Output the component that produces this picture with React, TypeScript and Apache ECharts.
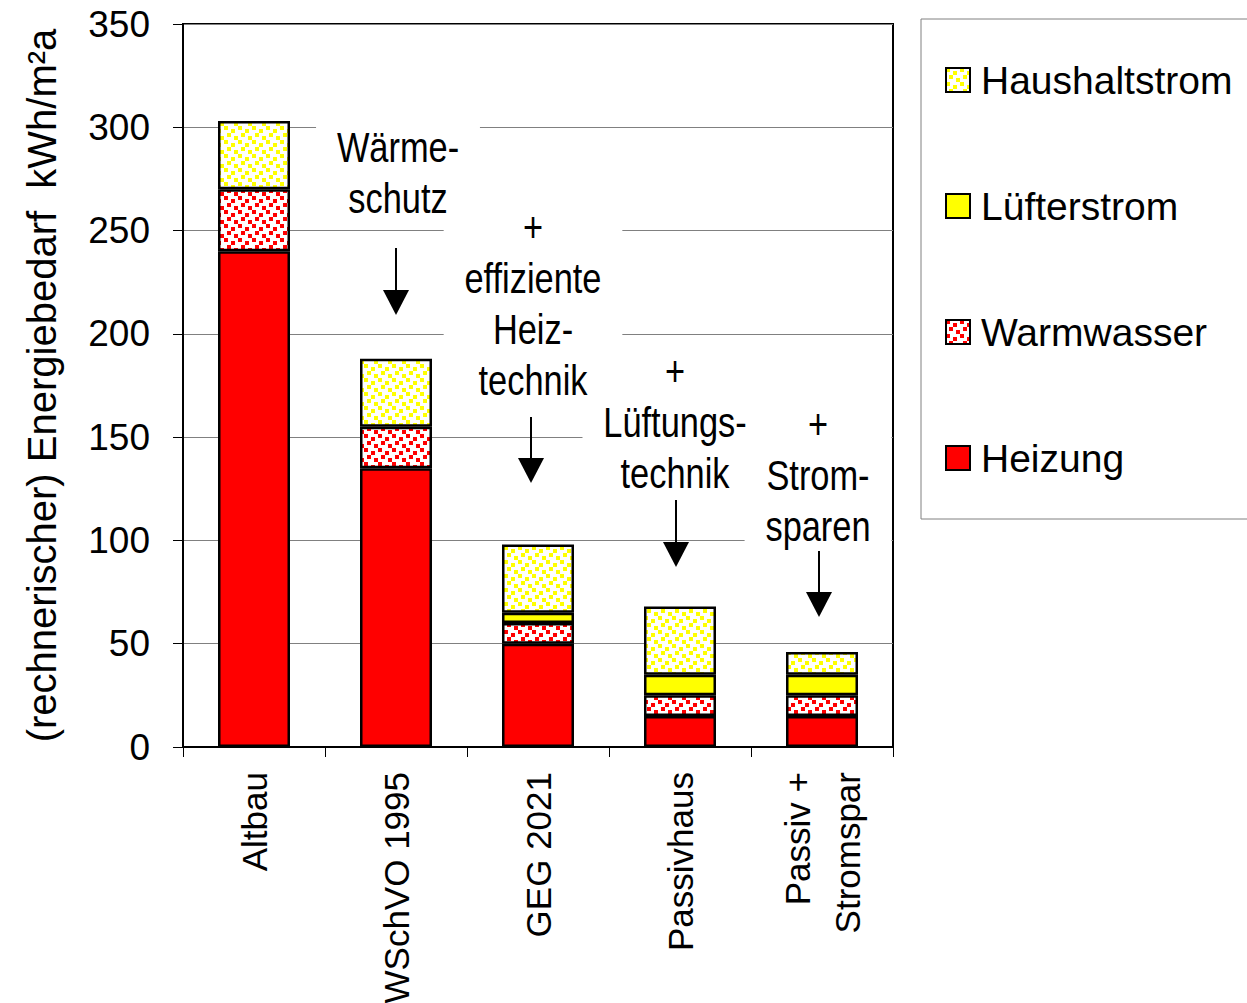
import React, { useEffect, useRef } from 'react';
import * as echarts from 'echarts';

const categories = ['Altbau', 'WSchVO 1995', 'GEG 2021', 'Passivhaus', 'Passiv +\nStromspar'];
const heizung = [240, 135, 50, 15, 15];
const warmwasser = [30, 20, 10, 10, 10];
const luefterstrom = [0, 0, 5, 10, 10];
const haushaltstrom = [33, 33, 33, 33, 11];
const legendOrder = ['Haushaltstrom', 'Lüfterstrom', 'Warmwasser', 'Heizung'];
const yAxisName = '(rechnerischer) Energiebedarf  kWh/m²a';

const annotations = [
  { text: 'Wärme-\nschutz', x: 398, y: 173 },
  { text: '+\neffiziente\nHeiz-\ntechnik', x: 533, y: 304 },
  { text: '+\nLüftungs-\ntechnik', x: 675, y: 422 },
  { text: '+\nStrom-\nsparen', x: 818, y: 475 },
];
const arrows = [
  { x: 396, y1: 248, y2: 315 },
  { x: 531, y1: 417, y2: 483 },
  { x: 676, y1: 500, y2: 567 },
  { x: 819, y1: 551, y2: 617 },
];

const FONT = "'Liberation Sans', Arial, sans-serif";

function makePattern(color: string) {
  const c = document.createElement('canvas');
  c.width = 14;
  c.height = 14;
  const ctx = c.getContext('2d')!;
  ctx.fillStyle = '#ffffff';
  ctx.fillRect(0, 0, 14, 14);
  ctx.fillStyle = color;
  [[0, 0], [7, 3], [3, 7], [10, 10]].forEach(([x, y]) => ctx.fillRect(x, y, 4, 4));
  return { image: c.toDataURL(), repeat: 'repeat', imageWidth: 14, imageHeight: 14 } as any;
}

export default function App() {
  const ref = useRef<HTMLDivElement>(null);
  useEffect(() => {
    if (!ref.current) return;
    const chart = echarts.init(ref.current, null, { renderer: 'svg' });
    const border = { borderColor: '#000', borderWidth: 2.5 };
    const mkSeries = (name: string, data: number[], color: any) => ({
      name,
      type: 'bar',
      stack: 'total',
      barWidth: 72,
      data: data.map((v) => (v === 0 ? '-' : v)),
      itemStyle: { color, ...border },
    });
    const graphics: any[] = [
      {
        type: 'rect',
        z: -10,
        shape: { x: 921, y: 19, width: 340, height: 500 },
        style: { fill: '#fff', stroke: '#808080', lineWidth: 1 },
      },
    ];
    annotations.forEach((a) => {
      const base = {
        text: a.text,
        font: `43px ${FONT}`,
        align: 'center',
        verticalAlign: 'middle',
        lineHeight: 51,
      };
      graphics.push({
        type: 'text',
        z: 40,
        x: a.x,
        y: a.y,
        scaleX: 0.8,
        style: { ...base, fill: 'rgba(0,0,0,0)', backgroundColor: '#fff', padding: [4, 26, 4, 26] },
      });
      graphics.push({
        type: 'text',
        z: 50,
        x: a.x,
        y: a.y,
        scaleX: 0.8,
        style: { ...base, fill: '#000' },
      });
    });
    arrows.forEach((a) => {
      graphics.push({
        type: 'line',
        z: 60,
        shape: { x1: a.x, y1: a.y1, x2: a.x, y2: a.y2 - 20 },
        style: { stroke: '#000', lineWidth: 2 },
      });
      graphics.push({
        type: 'polygon',
        z: 60,
        shape: { points: [[a.x - 13, a.y2 - 25], [a.x + 13, a.y2 - 25], [a.x, a.y2]] },
        style: { fill: '#000' },
      });
    });
    chart.setOption({
      animation: false,
      backgroundColor: '#fff',
      textStyle: { fontFamily: FONT },
      grid: {
        left: 183,
        right: 354,
        top: 24,
        bottom: 256,
        containLabel: false,
        outerBoundsMode: 'none',
        show: true,
        borderColor: '#000',
        borderWidth: 2,
        backgroundColor: 'transparent',
      },
      legend: {
        orient: 'vertical',
        left: 945,
        top: 55,
        padding: 0,
        data: legendOrder,
        itemWidth: 24,
        itemHeight: 24,
        itemGap: 76,
        icon: 'rect',
        textStyle: { fontSize: 39, fontFamily: FONT, color: '#000', lineHeight: 50, padding: [0, 0, 0, 6] },
      },
      xAxis: {
        type: 'category',
        data: categories,
        axisLine: { lineStyle: { color: '#000', width: 2 } },
        axisTick: { show: true, length: 10, lineStyle: { color: '#000', width: 1 } },
        axisLabel: {
          rotate: 90,
          fontSize: 35,
          fontFamily: FONT,
          color: '#000',
          margin: 25,
          lineHeight: 50,
          interval: 0,
        },
      },
      yAxis: {
        type: 'value',
        min: 0,
        max: 350,
        interval: 50,
        name: yAxisName,
        nameLocation: 'middle',
        nameRotate: 90,
        nameGap: 121,
        nameTextStyle: { fontSize: 40, fontFamily: FONT, color: '#000' },
        axisLine: { show: true, lineStyle: { color: '#000', width: 2 } },
        axisTick: { show: true, length: 10, lineStyle: { color: '#000', width: 1 } },
        axisLabel: { fontSize: 37, fontFamily: FONT, color: '#000', margin: 33 },
        splitLine: { show: true, lineStyle: { color: '#808080', width: 1 } },
      },
      series: [
        mkSeries('Heizung', heizung, '#ff0000'),
        mkSeries('Warmwasser', warmwasser, makePattern('#ff0000')),
        mkSeries('Lüfterstrom', luefterstrom, '#ffff00'),
        mkSeries('Haushaltstrom', haushaltstrom, makePattern('#ffff00')),
      ],
      graphic: graphics,
    });
    return () => chart.dispose();
  }, []);
  return (
    <div
      ref={ref}
      style={{ position: 'fixed', left: 0, top: 0, width: 1247, height: 1003, background: '#fff' }}
    />
  );
}
